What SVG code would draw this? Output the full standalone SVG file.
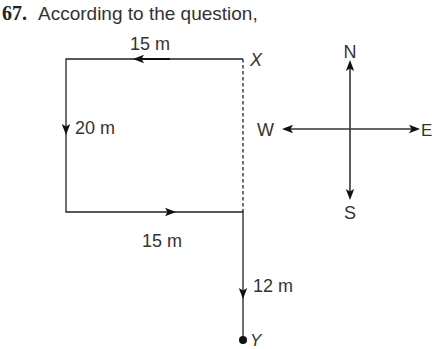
<svg xmlns="http://www.w3.org/2000/svg" width="432" height="349" viewBox="0 0 432 349">
<style>
.t{font-family:"Liberation Sans",Arial,sans-serif;font-size:18px;fill:#333}
.it{font-style:italic}
.ln{stroke:#222;stroke-width:1.3;fill:none}
.cp{stroke:#333;stroke-width:1.6;fill:none}
.ah{fill:#111}
</style>
<defs>
<path id="ah" d="M0,0 L-11,-4.2 L-8.5,0 L-11,4.2 Z"/>
</defs>
<rect width="432" height="349" fill="#fff"/>
<g id="title">
<text x="2" y="20" style="font-family:'Liberation Serif',serif;font-weight:bold;font-size:20px;fill:#222">67.</text>
<text x="38" y="20" class="t" style="font-size:19px">According to the question,</text>
</g>
<g id="connectors">
<path class="ln" d="M243,59 H66 V212 H243 V340"/>
<line x1="135" y1="59" x2="170" y2="59" stroke="#111" stroke-width="1.8"/>
<line class="ln" x1="243" y1="59" x2="243" y2="212" stroke-dasharray="3.5,2.5"/>
<use href="#ah" class="ah" transform="translate(133,59) rotate(180)"/>
<use href="#ah" class="ah" transform="translate(66,135) rotate(90)"/>
<use href="#ah" class="ah" transform="translate(176,212)"/>
<use href="#ah" class="ah" transform="translate(243,299) rotate(90)"/>
</g>
<g id="labels">
<text class="t" x="150" y="50" text-anchor="middle">15 m</text>
<text class="t it" x="250" y="66">X</text>
<text class="t" x="75" y="134">20 m</text>
<text class="t" x="162" y="247" text-anchor="middle">15 m</text>
<text class="t" x="253" y="292">12 m</text>
</g>
<g id="Y">
<circle cx="243" cy="340" r="4" fill="#111"/>
<text class="t it" x="250" y="346" style="font-size:17px">Y</text>
</g>
<g id="compass">
<line class="cp" x1="350" y1="66" x2="350" y2="194"/>
<line class="cp" x1="288" y1="129" x2="414" y2="129"/>
<use href="#ah" class="ah" transform="translate(350,60) rotate(-90)"/>
<use href="#ah" class="ah" transform="translate(350,200) rotate(90)"/>
<use href="#ah" class="ah" transform="translate(282,129) rotate(180)"/>
<use href="#ah" class="ah" transform="translate(420,129)"/>
<text class="t" x="350" y="58" text-anchor="middle">N</text>
<text class="t" x="350" y="219" text-anchor="middle">S</text>
<text class="t" x="257" y="136">W</text>
<text class="t" x="421" y="136" style="font-size:17px">E</text>
</g>
</svg>
